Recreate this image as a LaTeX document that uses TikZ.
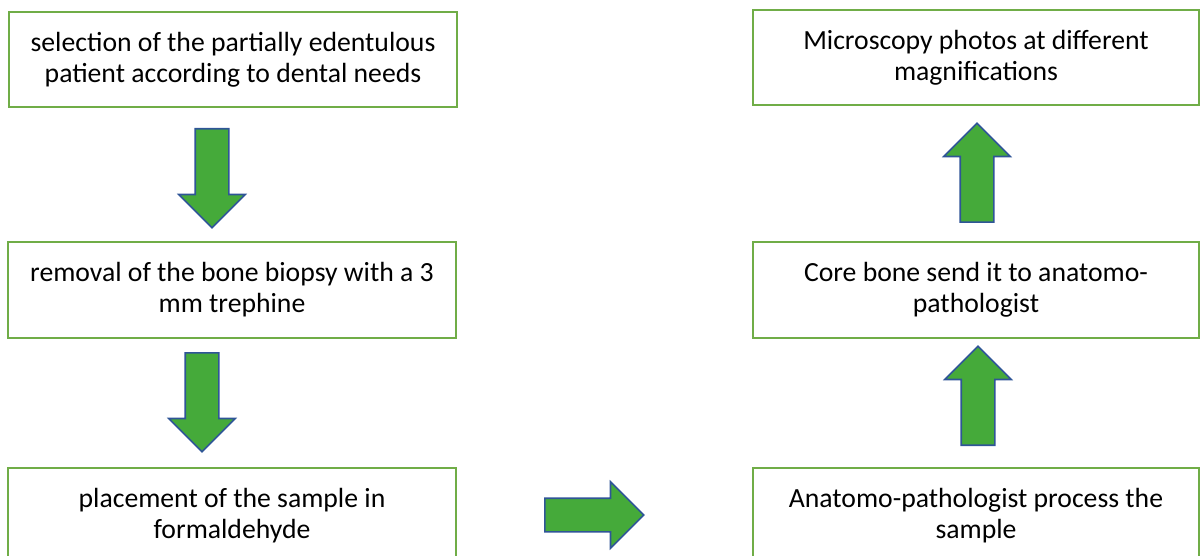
\documentclass[tikz,border=0pt]{standalone}
\usepackage{fontspec}
\setmainfont{Carlito}
\usepackage{xcolor}
\usetikzlibrary{shapes.arrows}
\definecolor{boxgreen}{HTML}{70AD47}
\definecolor{arrowgreen}{HTML}{45AA3A}
\definecolor{arrowblue}{HTML}{2F5597}
\tikzset{
  step box/.style   = {draw=boxgreen, line width=2pt, fill=white,
                       minimum height=95, align=center, inner sep=0pt,
                       font=\fontsize{27.7}{31}\selectfont},
  left box/.style   = {step box, minimum width=448},
  right box/.style  = {step box, minimum width=446},
  fat arrow/.style  = {single arrow, draw=arrowblue, fill=arrowgreen,
                       line width=1.6pt, inner xsep=0pt, inner ysep=16pt,
                       minimum height=99, single arrow head extend=16.5,
                       single arrow tip angle=90, anchor=tail},
}

\begin{document}
\begin{tikzpicture}[x=1pt,y=-1pt]
      \useasboundingbox (0,0) rectangle (1200,556);
      \clip (0,0) rectangle (1200,556);
      % left column
      \node[left box] (select) at (233,59.5)
        {selection of the partially edentulous\\patient according to dental needs};
      \node[left box] (removal) at (232,290)
        {removal of the bone biopsy with a 3\\mm trephine};
      \node[left box] (formol) at (232,515.5)
        {placement of the sample in\\formaldehyde};
      % right column
      \node[right box] (process) at (976,515.5)
        {Anatomo-pathologist process the\\sample};
      \node[right box] (send) at (976,290)
        {Core bone send it to anatomo-\\pathologist};
      \node[right box] (photos) at (976,57.5)
        {Microscopy photos at different\\magnifications};
      % block arrows, placed by their tails
      \node[fat arrow, rotate=-90] (a1) at (212,128) {};
      \node[fat arrow, rotate=-90] (a2) at (202,352) {};
      \node[fat arrow] (a3) at (544,515) {};
      \node[fat arrow, rotate=90] (a4) at (978,446) {};
      \node[fat arrow, rotate=90] (a5) at (977,223) {};
    \end{tikzpicture}
\end{document}
